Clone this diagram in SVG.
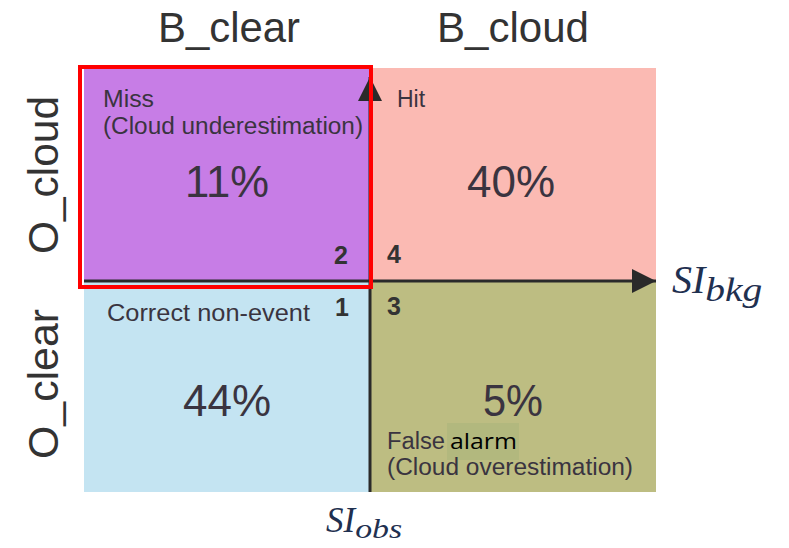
<svg xmlns="http://www.w3.org/2000/svg" width="789" height="548" viewBox="0 0 789 548">
<style>
.lbl{font-family:"Liberation Sans",Arial,sans-serif;fill:#3a3440;}
.sm{font-size:23px;}
.pct{font-size:44px;text-anchor:middle;}
.num{font-family:"Liberation Sans",Arial,sans-serif;font-size:25px;font-weight:bold;fill:#333;}
.hdr{font-family:"Liberation Sans",Arial,sans-serif;font-size:42px;fill:#333;}
.math{font-family:"Liberation Serif","Times New Roman",serif;font-style:italic;fill:#1f3050;}
.axis{stroke:#2a2a2a;stroke-width:3;fill:none;}
</style>
<defs>
<marker id="ah" viewBox="0 0 24 24" refX="24" refY="12" markerWidth="24" markerHeight="24" markerUnits="userSpaceOnUse" orient="auto">
<path d="M0,0 L24,12 L0,24 Z" fill="#2a2a2a"/>
</marker>
</defs>
<rect width="789" height="548" fill="#ffffff"/>
<g id="header-bclear"><text class="hdr" x="229" y="42" text-anchor="middle" textLength="142" lengthAdjust="spacingAndGlyphs">B_clear</text></g>
<g id="header-bcloud"><text class="hdr" x="513" y="42" text-anchor="middle" textLength="152" lengthAdjust="spacingAndGlyphs">B_cloud</text></g>
<g id="header-ocloud"><text class="hdr" transform="translate(58,175) rotate(-90)" text-anchor="middle" textLength="158" lengthAdjust="spacingAndGlyphs">O_cloud</text></g>
<g id="header-oclear"><text class="hdr" transform="translate(58,384) rotate(-90)" text-anchor="middle" textLength="150" lengthAdjust="spacingAndGlyphs">O_clear</text></g>

<g id="miss">
<rect x="84" y="68" width="286" height="213" fill="#C77DE6"/>
<text class="lbl sm" x="103" y="107" textLength="51" lengthAdjust="spacingAndGlyphs">Miss</text>
<text class="lbl sm" x="103" y="134" textLength="260" lengthAdjust="spacingAndGlyphs">(Cloud underestimation)</text>
<text class="lbl pct" x="227" y="197" textLength="84" lengthAdjust="spacingAndGlyphs">11%</text>
<text class="num" x="334" y="264">2</text>
</g>
<g id="hit">
<rect x="370" y="68" width="286" height="213" fill="#FBBAB3"/>
<text class="lbl sm" x="397" y="107">Hit</text>
<text class="lbl pct" x="511" y="197" textLength="88" lengthAdjust="spacingAndGlyphs">40%</text>
<text class="num" x="387" y="263">4</text>
</g>
<g id="correct">
<rect x="84" y="281" width="286" height="211" fill="#C4E4F2"/>
<text class="lbl sm" x="107" y="321" textLength="203" lengthAdjust="spacingAndGlyphs">Correct non-event</text>
<text class="lbl pct" x="227" y="416" textLength="88" lengthAdjust="spacingAndGlyphs">44%</text>
<text class="num" x="335" y="316">1</text>
</g>
<g id="false-alarm">
<rect x="370" y="281" width="286" height="211" fill="#BDBD82"/>
<text class="lbl pct" x="513" y="416" textLength="60" lengthAdjust="spacingAndGlyphs">5%</text>
<rect x="447" y="423" width="72" height="37" fill="#B2B87E"/>
<text class="lbl sm" x="387" y="449" textLength="58" lengthAdjust="spacingAndGlyphs">False</text>
<text x="450" y="449" font-family="'Open Sans',sans-serif" font-size="22" fill="#000" textLength="67" lengthAdjust="spacingAndGlyphs">alarm</text>
<text class="lbl sm" x="387" y="475" textLength="246" lengthAdjust="spacingAndGlyphs">(Cloud overestimation)</text>
<text class="num" x="387" y="315">3</text>
</g>

<g id="connectors">
<line class="axis" x1="84" y1="281" x2="656" y2="281" marker-end="url(#ah)"/>
<line class="axis" x1="370" y1="492" x2="370" y2="77" marker-end="url(#ah)"/>
</g>

<g id="highlight">
<rect x="80" y="67" width="291" height="220" fill="none" stroke="#FF0000" stroke-width="4"/>
</g>

<g id="axis-labels">
<text class="math" x="672" y="293" font-size="40">SI<tspan font-size="33" dy="8" textLength="57" lengthAdjust="spacingAndGlyphs">bkg</tspan></text>
<text class="math" x="326" y="532" font-size="35">SI<tspan font-size="28" dy="6" textLength="47" lengthAdjust="spacingAndGlyphs">obs</tspan></text>
</g>
</svg>
